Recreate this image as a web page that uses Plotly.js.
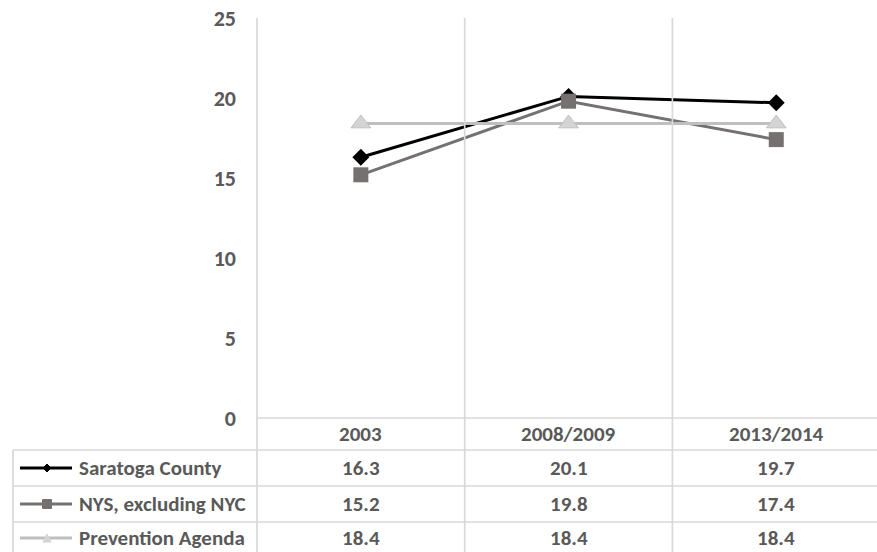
<!DOCTYPE html>
<html>
<head>
<meta charset="utf-8">
<script src="https://cdn.plot.ly/plotly-3.0.1.min.js"></script>
<style>html,body{margin:0;padding:0;background:#fff;}#chart{width:877px;height:552px;}</style>
</head>
<body>
<div id="chart"></div>
<script>
// ---- data ----
var categories = ['2003', '2008/2009', '2013/2014'];
var seriesNames = ['Saratoga County', 'NYS, excluding NYC', 'Prevention Agenda'];
var saratoga = [16.3, 20.1, 19.7];
var nys = [15.2, 19.8, 17.4];
var prevention = [18.4, 18.4, 18.4];
var yTicks = [0, 5, 10, 15, 20, 25];

// ---- styles ----
var FONT = 'Carlito, "Open Sans", sans-serif';
var TXT = '#595959';
var GRID = '#d9d9d9';
var styles = [
  {line: '#000000', marker: {symbol: 'diamond', size: 13, color: '#000000'}, key: 'diamond'},
  {line: '#767171', marker: {symbol: 'square', size: 15, color: '#767171'}, key: 'square'},
  {line: '#bfbfbf', marker: {symbol: 'triangle-up', size: 17, color: '#d4d4d4', line: {color: '#bfbfbf', width: 1}}, key: 'triangle'}
];
var values = [saratoga, nys, prevention];

var W = 877, H = 552;
var L = 257, T = 18, B = 418; // plot area in pixels
var plotW = W - L, plotH = B - T;
var xr = [-0.5, 2.485];
function px(x) { return (x - L) / plotW; }
function py(y) { return (B - y) / plotH; }
var catW = plotW / (xr[1] - xr[0]);

var xIdx = categories.map(function (c, i) { return i; });

var traces = values.map(function (v, i) {
  return {
    type: 'scatter', mode: 'lines+markers', name: seriesNames[i],
    x: xIdx, y: v,
    line: {color: styles[i].line, width: 3},
    marker: styles[i].marker,
    showlegend: false, hoverinfo: 'skip'
  };
});

var shapes = [];
function hline(x0, x1, y) {
  shapes.push({type: 'line', xref: 'paper', yref: 'paper', x0: px(x0), x1: px(x1), y0: py(y), y1: py(y), line: {color: GRID, width: 1.7}});
}
function vline(x, y0, y1) {
  shapes.push({type: 'line', xref: 'paper', yref: 'paper', x0: px(x), x1: px(x), y0: py(y0), y1: py(y1), line: {color: GRID, width: 1.7}});
}
for (var k = 0; k < categories.length; k++) {
  vline(L + k * catW, T, H);
}
var rowTop = [450, 486, 522];
var rowMid = [468, 504, 538];
var headerMid = 434;
hline(L, W, B);
rowTop.forEach(function (y) { hline(13, W, y); });
vline(13, 450, H);

// legend keys in the table
rowMid.forEach(function (y, i) {
  shapes.push({type: 'line', xref: 'paper', yref: 'paper', x0: px(20), x1: px(72), y0: py(y), y1: py(y), line: {color: styles[i].line, width: 3}});
  var cx = 47, s, path;
  if (styles[i].key === 'diamond') {
    s = 4;
    path = 'M' + px(cx - s) + ',' + py(y) + ' L' + px(cx) + ',' + py(y - s) + ' L' + px(cx + s) + ',' + py(y) + ' L' + px(cx) + ',' + py(y + s) + ' Z';
  } else if (styles[i].key === 'square') {
    s = 4.5;
    path = 'M' + px(cx - s) + ',' + py(y - s) + ' L' + px(cx + s) + ',' + py(y - s) + ' L' + px(cx + s) + ',' + py(y + s) + ' L' + px(cx - s) + ',' + py(y + s) + ' Z';
  } else {
    s = 4;
    path = 'M' + px(cx - s) + ',' + py(y + s) + ' L' + px(cx) + ',' + py(y - s) + ' L' + px(cx + s) + ',' + py(y + s) + ' Z';
  }
  shapes.push({type: 'path', xref: 'paper', yref: 'paper', path: path, fillcolor: styles[i].marker.color, line: {color: styles[i].marker.color, width: 1}});
});

var annotations = [];
var tf = {family: FONT, size: 21, color: TXT, weight: 700};
categories.forEach(function (c, i) {
  annotations.push({xref: 'x', yref: 'paper', x: i, y: py(headerMid), text: c, showarrow: false, xanchor: 'center', yanchor: 'middle', font: tf});
});
values.forEach(function (v, r) {
  annotations.push({xref: 'paper', yref: 'paper', x: px(77), y: py(rowMid[r]), text: seriesNames[r], showarrow: false, xanchor: 'left', yanchor: 'middle', font: tf});
  v.forEach(function (val, i) {
    annotations.push({xref: 'x', yref: 'paper', x: i, y: py(rowMid[r]), text: val.toFixed(1), showarrow: false, xanchor: 'center', yanchor: 'middle', font: tf});
  });
});

var layout = {
  width: W, height: H,
  margin: {l: L, r: 0, t: T, b: H - B, pad: 0},
  paper_bgcolor: '#ffffff', plot_bgcolor: '#ffffff',
  showlegend: false,
  xaxis: {range: xr, showgrid: false, zeroline: false, showline: false, showticklabels: false, ticks: '', fixedrange: true},
  yaxis: {range: [0, 25], tickvals: yTicks, ticktext: yTicks.map(String), showgrid: false, zeroline: false, showline: false, ticks: '',
          ticklabelstandoff: 20, tickfont: {family: FONT, size: 22, color: TXT, weight: 700}, fixedrange: true},
  shapes: shapes,
  annotations: annotations
};

Plotly.newPlot('chart', traces, layout, {displayModeBar: false, staticPlot: true});
</script>
</body>
</html>
